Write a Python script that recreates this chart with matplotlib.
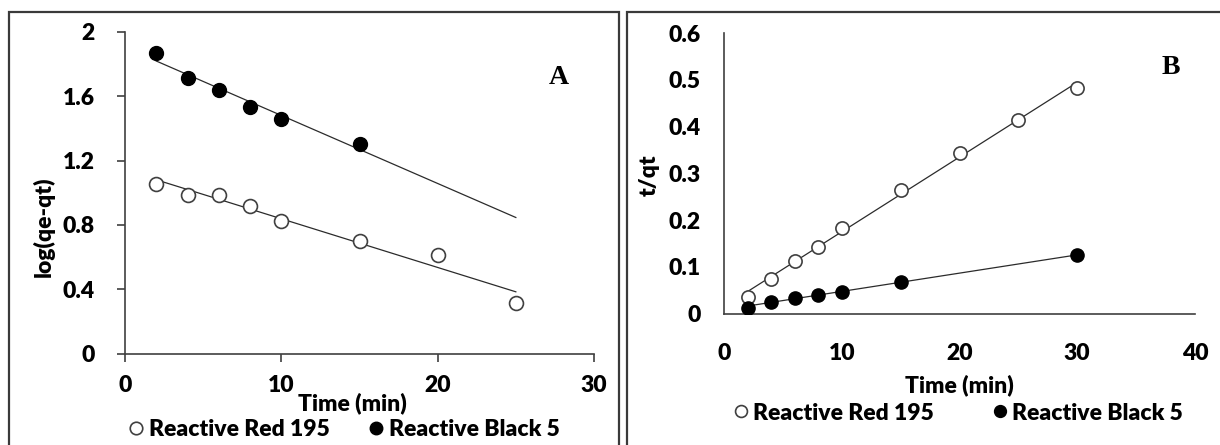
import numpy as np
import matplotlib
matplotlib.use("Agg")
import matplotlib.pyplot as plt
from matplotlib.patches import Rectangle
from matplotlib.lines import Line2D

# ---------------- data ----------------
time_A_rr = [2, 4, 6, 8, 10, 15, 20, 25]
log_A_rr = [1.057, 0.987, 0.987, 0.918, 0.827, 0.703, 0.610, 0.314]
time_A_rb = [2, 4, 6, 8, 10, 15]
log_A_rb = [1.866, 1.715, 1.638, 1.535, 1.456, 1.303]
trend_A_x = [2, 25]

time_B_rr = [2, 4, 6, 8, 10, 15, 20, 25, 30]
tq_B_rr = [0.036, 0.075, 0.112, 0.143, 0.184, 0.265, 0.343, 0.415, 0.482]
time_B_rb = [2, 4, 6, 8, 10, 15, 30]
tq_B_rb = [0.013, 0.025, 0.034, 0.041, 0.047, 0.068, 0.125]
trend_B_x = [2, 30]

yticks_A = [0, 0.4, 0.8, 1.2, 1.6, 2.0]
yticklabels_A = ["0", "0.4", "0.8", "1.2", "1.6", "2"]
xticks_A = [0, 10, 20, 30]
yticks_B = [0, 0.1, 0.2, 0.3, 0.4, 0.5, 0.6]
yticklabels_B = ["0", "0.1", "0.2", "0.3", "0.4", "0.5", "0.6"]
xticks_B = [0, 10, 20, 30, 40]
series_names = ["Reactive Red 195", "Reactive Black 5"]

# ---------------- style ----------------
W, H = 1220, 445
plt.rcParams['font.family'] = ['Lato', 'DejaVu Sans']
plt.rcParams['font.weight'] = 'heavy'
FW = 'heavy'
FS = 16.5
fig = plt.figure(figsize=(W / 100, H / 100), dpi=100)
fig.patch.set_facecolor('white')

def fx(px):
    return px / W

def fy(py):
    return 1 - py / H

def add_ax(l, t, r, b):
    return fig.add_axes([fx(l), fy(b), fx(r) - fx(l), (b - t) / H])

# panel borders
border_col = '#3a3a3a'
fig.patches.append(Rectangle((fx(9), fy(470)), fx(619) - fx(9), (470 - 12) / H,
                             transform=fig.transFigure, fill=False,
                             edgecolor=border_col, lw=1.6))
fig.patches.append(Rectangle((fx(627), fy(470)), fx(1240) - fx(627), (470 - 12) / H,
                             transform=fig.transFigure, fill=False,
                             edgecolor=border_col, lw=1.6))

line_col = '#2b2b2b'
ms_A = 10
ms_B = 9.5

def fit_line(ax, x, y, xr):
    p = np.polyfit(x, y, 1)
    xs = np.array(xr, dtype=float)
    ax.plot(xs, np.polyval(p, xs), color=line_col, lw=0.9, zorder=2)

# ---------------- panel A ----------------
axA = add_ax(125, 31.7, 594, 353.7)
fit_line(axA, time_A_rb, log_A_rb, trend_A_x)
fit_line(axA, time_A_rr, log_A_rr, trend_A_x)
axA.plot(time_A_rr, log_A_rr, 'o', ms=ms_A, mfc='white', mec='#404040', mew=1.2,
         ls='none', zorder=3)
axA.plot(time_A_rb, log_A_rb, 'o', ms=ms_A, mfc='black', mec='black', mew=1.0,
         ls='none', zorder=3)
axA.set_xlim(0, 30)
axA.set_ylim(0, 2)
axA.set_xticks(xticks_A)
axA.set_yticks(yticks_A)
axA.set_yticklabels(yticklabels_A)
for s in ['top', 'right']:
    axA.spines[s].set_visible(False)
for s in ['left', 'bottom']:
    axA.spines[s].set_color('#404040')
    axA.spines[s].set_linewidth(1.2)
axA.tick_params(axis='both', direction='out', length=6, width=1.2, color='#404040',
                labelsize=FS)
axA.tick_params(axis='x', pad=9)
axA.tick_params(axis='y', pad=16)
axA.patch.set_alpha(0)

# ---------------- panel B ----------------
axB = add_ax(724, 33, 1195, 313.7)
fit_line(axB, time_B_rr, tq_B_rr, trend_B_x)
fit_line(axB, time_B_rb, tq_B_rb, trend_B_x)
axB.plot(time_B_rr, tq_B_rr, 'o', ms=ms_B, mfc='white', mec='#404040', mew=1.2,
         ls='none', zorder=3)
axB.plot(time_B_rb, tq_B_rb, 'o', ms=ms_B, mfc='black', mec='black', mew=1.0,
         ls='none', zorder=3)
axB.set_xlim(0, 40)
axB.set_ylim(0, 0.6)
axB.set_xticks(xticks_B)
axB.set_yticks(yticks_B)
axB.set_yticklabels(yticklabels_B)
for s in ['top', 'right']:
    axB.spines[s].set_visible(False)
for s in ['left', 'bottom']:
    axB.spines[s].set_color('#404040')
    axB.spines[s].set_linewidth(1.2)
axB.tick_params(axis='both', length=0, labelsize=FS)
axB.tick_params(axis='x', pad=21)
axB.tick_params(axis='y', pad=17)
axB.patch.set_alpha(0)

# panel letters
fig.text(fx(559), fy(78), "A", fontsize=20, fontweight='bold',
         family='Liberation Serif', ha='center', va='center')
fig.text(fx(1171), fy(67), "B", fontsize=20, fontweight='bold',
         family='Liberation Serif', ha='center', va='center')

# axis labels
fig.text(fx(352), fy(403), "Time (min)", fontsize=FS, fontweight=FW,
         ha='center', va='center')
fig.text(fx(43.5), fy(227), "log(qe-qt)", fontsize=FS, fontweight=FW,
         ha='center', va='center', rotation=90)
fig.text(fx(959.5), fy(385), "Time (min)", fontsize=FS, fontweight=FW,
         ha='center', va='center')
fig.text(fx(649), fy(175), "t/qt", fontsize=FS, fontweight=FW,
         ha='center', va='center', rotation=90)

# legends
def make_handles(ms):
    return [Line2D([], [], ls='none', marker='o', ms=ms * 0.9, mfc='white',
                   mec='#404040', mew=1.2),
            Line2D([], [], ls='none', marker='o', ms=ms * 0.9, mfc='black',
                   mec='black', mew=1.0)]

for cx, cy, ms, cs in [(345, 430, ms_A, 1.8), (959, 413, ms_B, 2.6)]:
    fig.legend(make_handles(ms), series_names, loc='center',
               bbox_to_anchor=(fx(cx), fy(cy)), ncol=2, frameon=False,
               fontsize=FS, handlelength=0.5, handletextpad=0.3,
               columnspacing=cs, borderpad=0, borderaxespad=0)

fig.savefig("out.png", dpi=100)
